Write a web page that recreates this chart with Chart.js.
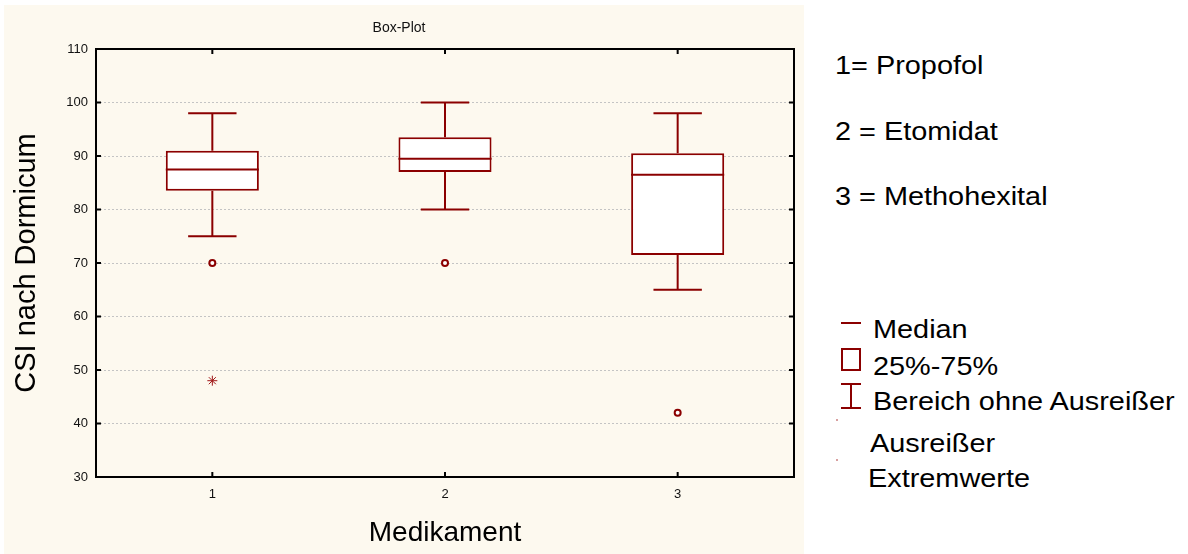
<!DOCTYPE html>
<html>
<head>
<meta charset="utf-8">
<script src="https://cdn.jsdelivr.net/npm/chart.js@4/dist/chart.umd.min.js"></script>
<style>
  body { margin: 0; background: #fff; font-family: Arial, "Liberation Sans", sans-serif; }
  #wrap { position: relative; width: 1188px; height: 554px; overflow: hidden; }
  #panel { position: absolute; left: 4px; top: 5px; width: 800px; height: 549px; background: #fdf9ef; }
  .t { position: absolute; font-size: 26px; line-height: 26px; color: #000; white-space: nowrap;
       transform: scaleX(1.11); transform-origin: 0 0; }
  .sym { position: absolute; border: 0 solid #8b0000; }
</style>
</head>
<body>
<div id="wrap">
  <div id="panel"><canvas id="boxChart" width="800" height="549"></canvas></div>

  <div class="t" style="left:835px;top:52px">1= Propofol</div>
  <div class="t" style="left:835px;top:118px">2 = Etomidat</div>
  <div class="t" style="left:835px;top:183px">3 = Methohexital</div>

  <div class="sym" style="left:841px;top:322px;width:20px;border-top-width:2px"></div>
  <div class="sym" style="left:841px;top:348px;width:16px;height:19px;border-width:2px"></div>
  <div class="sym" style="left:841px;top:383px;width:20px;border-top-width:2px"></div>
  <div class="sym" style="left:850px;top:384px;width:0;height:24px;border-left-width:2px"></div>
  <div class="sym" style="left:841px;top:407px;width:20px;border-top-width:2px"></div>
  <div class="sym" style="left:836px;top:419px;width:2px;height:2px;background:#d8a0a0"></div>
  <div class="sym" style="left:836px;top:459px;width:2px;height:2px;background:#d8a0a0"></div>

  <div class="t" style="left:873px;top:316px">Median</div>
  <div class="t" style="left:873px;top:353px">25%-75%</div>
  <div class="t" style="left:873px;top:388px">Bereich ohne Ausreißer</div>
  <div class="t" style="left:870px;top:430px">Ausreißer</div>
  <div class="t" style="left:868px;top:465px">Extremwerte</div>
</div>

<script>
// Box-Plot: CSI nach Dormicum je Medikament
const categories = ['1', '2', '3'];
const whiskerLow = [75, 80, 65];
const quartile1 = [83.5, 87, 71.5];
const medians = [87.5, 89.5, 86.5];
const quartile3 = [91, 93.5, 90.5];
const whiskerHigh = [98, 100, 98];
const outlierCat = ['1', '2', '3'];
const outlierVal = [70, 70, 42];
const extremeCat = ['1'];
const extremeVal = [48];
const yTicks = [30, 40, 50, 60, 70, 80, 90, 100, 110];

const red = '#8b0000';

// whiskers, medians, frame and inward ticks
const boxParts = {
  id: 'boxParts',
  beforeDatasetsDraw(chart) {
    const ctx = chart.ctx, y = chart.scales.y;
    const bars = chart.getDatasetMeta(0).data;
    ctx.save();
    ctx.strokeStyle = red;
    ctx.lineWidth = 2;
    bars.forEach((bar, i) => {
      const cap = bar.width * 0.26;
      const lo = y.getPixelForValue(whiskerLow[i]);
      const hi = y.getPixelForValue(whiskerHigh[i]);
      ctx.beginPath();
      ctx.moveTo(bar.x, lo); ctx.lineTo(bar.x, y.getPixelForValue(quartile1[i]));
      ctx.moveTo(bar.x, hi); ctx.lineTo(bar.x, y.getPixelForValue(quartile3[i]));
      ctx.moveTo(bar.x - cap, lo); ctx.lineTo(bar.x + cap, lo);
      ctx.moveTo(bar.x - cap, hi); ctx.lineTo(bar.x + cap, hi);
      ctx.stroke();
    });
    ctx.restore();
  },
  afterDatasetsDraw(chart) {
    const ctx = chart.ctx, y = chart.scales.y;
    const bars = chart.getDatasetMeta(0).data;
    ctx.save();
    ctx.strokeStyle = red;
    ctx.lineWidth = 2;
    bars.forEach((bar, i) => {
      const m = y.getPixelForValue(medians[i]);
      ctx.beginPath();
      ctx.moveTo(bar.x - bar.width / 2, m);
      ctx.lineTo(bar.x + bar.width / 2, m);
      ctx.stroke();
    });
    ctx.restore();
  },
  afterDraw(chart) {
    const ctx = chart.ctx, a = chart.chartArea;
    const x = chart.scales.x, y = chart.scales.y;
    ctx.save();
    ctx.strokeStyle = '#000';
    ctx.lineWidth = 2;
    ctx.strokeRect(a.left, a.top, a.right - a.left, a.bottom - a.top);
    ctx.beginPath();
    yTicks.forEach(v => {
      const py = y.getPixelForValue(v);
      ctx.moveTo(a.left, py); ctx.lineTo(a.left + 5, py);
      ctx.moveTo(a.right, py); ctx.lineTo(a.right - 5, py);
    });
    categories.forEach((c, i) => {
      const px = x.getPixelForValue(i);
      ctx.moveTo(px, a.top); ctx.lineTo(px, a.top + 5);
      ctx.moveTo(px, a.bottom); ctx.lineTo(px, a.bottom - 5);
    });
    ctx.stroke();
    ctx.restore();
  }
};

new Chart(document.getElementById('boxChart'), {
  data: {
    labels: categories,
    datasets: [
      {
        type: 'bar',
        data: categories.map((c, i) => [quartile1[i], quartile3[i]]),
        backgroundColor: '#fff',
        borderColor: red,
        borderWidth: 2,
        borderSkipped: false,
        barPercentage: 0.4,
        categoryPercentage: 1
      },
      {
        type: 'line',
        showLine: false,
        data: outlierCat.map((c, i) => ({ x: c, y: outlierVal[i] })),
        pointStyle: 'circle',
        pointRadius: 3,
        pointBorderWidth: 2,
        pointBorderColor: red,
        pointBackgroundColor: '#fff'
      },
      {
        type: 'line',
        showLine: false,
        data: extremeCat.map((c, i) => ({ x: c, y: extremeVal[i] })),
        pointStyle: 'star',
        pointRadius: 5,
        pointBorderWidth: 1,
        pointBorderColor: '#a01818'
      }
    ]
  },
  options: {
    responsive: false,
    animation: false,
    layout: { padding: { left: 0, right: 10, top: 0, bottom: 0 } },
    plugins: {
      legend: { display: false },
      tooltip: { enabled: false },
      title: {
        display: true,
        text: 'Box-Plot',
        color: '#111',
        font: { family: 'Arial, "Liberation Sans", sans-serif', size: 14, weight: 'normal', lineHeight: 1.2 },
        padding: { top: 14.6, bottom: 12.6 }
      }
    },
    scales: {
      x: {
        offset: true,
        grid: { display: false, drawTicks: false },
        border: { display: false },
        ticks: { color: '#111', padding: 10, font: { family: 'Arial, "Liberation Sans", sans-serif', size: 13 } },
        title: {
          display: true,
          text: 'Medikament',
          color: '#000',
          font: { family: 'Arial, "Liberation Sans", sans-serif', size: 28, lineHeight: 1.2 },
          padding: { top: 0, bottom: 4 }
        },
        afterFit(s) { s.height = 77; }
      },
      y: {
        min: 30,
        max: 110,
        ticks: { stepSize: 10, color: '#111', padding: 8, font: { family: 'Arial, "Liberation Sans", sans-serif', size: 13 } },
        grid: { color: '#c4c4c4', lineWidth: 1, drawTicks: false },
        border: { display: false, dash: [2, 2] },
        title: {
          display: true,
          text: 'CSI nach Dormicum',
          color: '#000',
          font: { family: 'Arial, "Liberation Sans", sans-serif', size: 29, lineHeight: 1.2 },
          padding: { top: 6, bottom: 0 }
        },
        afterFit(s) { s.width = 92; }
      }
    }
  },
  plugins: [boxParts]
});
</script>
</body>
</html>
